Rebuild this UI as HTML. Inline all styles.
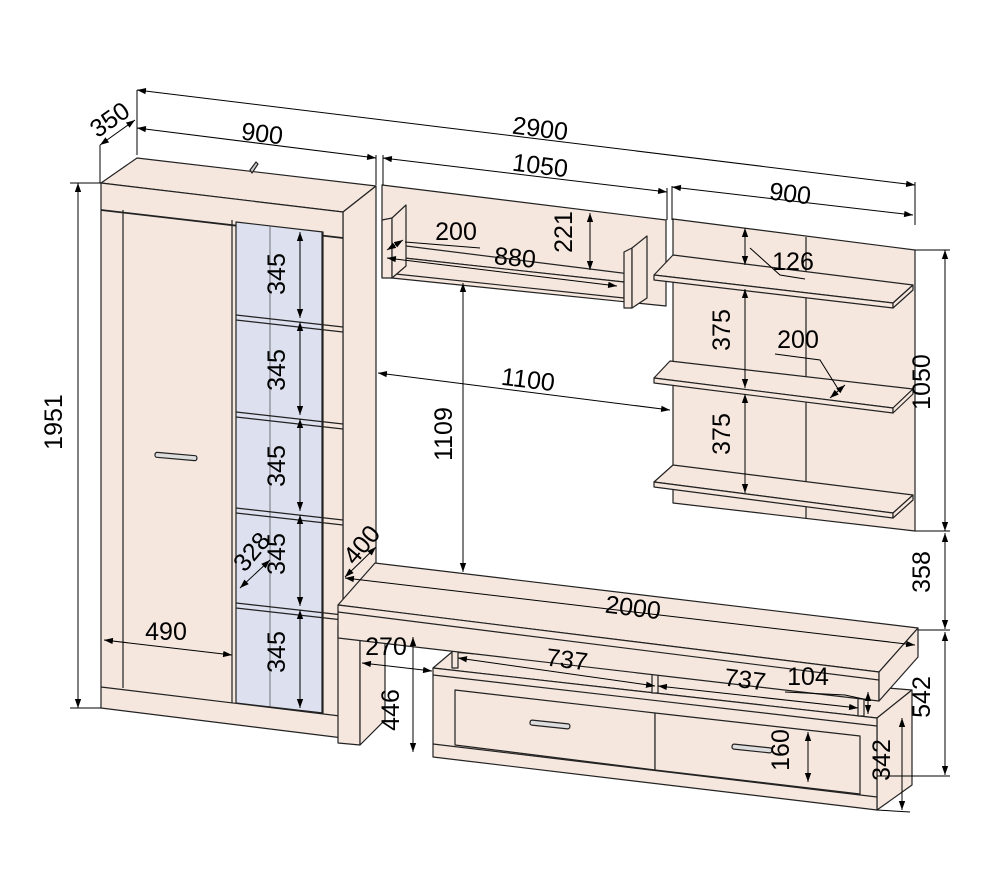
<!DOCTYPE html>
<html><head><meta charset="utf-8"><style>
html,body{margin:0;padding:0;background:#fff}
svg{display:block}
text{font-family:"Liberation Sans",Arial,sans-serif;font-size:25px;fill:#000}
</style></head><body>
<svg width="1000" height="870" viewBox="0 0 1000 870" xmlns="http://www.w3.org/2000/svg">
<defs>
<marker id="a" viewBox="0 0 10 10" refX="10" refY="5" markerWidth="9" markerHeight="9" orient="auto-start-reverse" markerUnits="userSpaceOnUse"><path d="M0,1.5 L10,5 L0,8.5 z" fill="#000"/></marker>
</defs>
<g stroke="#222" stroke-width="1.2" fill="#f6e7de" stroke-linejoin="round">
<polygon points="101,183 137,158 376,186 343,212"/>
<polygon points="343,212 376,186 376,710 343,738"/>
<polygon points="101,183 343,212 343,738 101,708"/>
<polyline fill="none" stroke-width="1.8" points="101,210 343,238"/>
<line x1="123" y1="210" x2="123" y2="688"/>
<polygon fill="#dde1ef" points="236,222 323,232 323,713 236,703"/>
<line x1="232" y1="220" x2="232" y2="703"/>
<line x1="270" y1="226" x2="270" y2="708" stroke="#555" stroke-width="0.8"/>
<line x1="322" y1="232" x2="322" y2="713"/>
<polyline fill="none" points="101,687 340,716"/>
<polyline fill="none" points="236,315 343,327"/>
<polyline fill="none" points="236,320 343,332"/>
<polyline fill="none" points="236,412 343,424"/>
<polyline fill="none" points="236,417 343,429"/>
<polyline fill="none" points="236,508 343,520"/>
<polyline fill="none" points="236,513 343,525"/>
<polyline fill="none" points="236,603 343,615"/>
<polyline fill="none" points="236,608 343,620"/>
<rect x="155" y="454" width="42" height="5" rx="2" fill="#ddd" transform="rotate(5 176 456)"/>
<path d="M250,170 l6,-8 l2,2 l-6,9 z" fill="#ccc"/>
<polygon points="382,185 666,220 666,306 382,277"/>
<polygon points="386,256 406,246 646,276 624,282"/>
<polygon points="386,256 624,282 624,298 386,273"/>
<polygon points="382,220 392,218 392,278 382,278"/>
<polygon points="392,218 406,205 406,266 392,278"/>
<polygon points="624,252 632,248 632,308 624,308"/>
<polygon points="632,248 647,236 647,298 632,308"/>
<polygon points="673,219 915,250 915,531 673,503"/>
<line x1="806" y1="237" x2="806" y2="518"/>
<polygon points="654,275 673,255 913,285 893,303"/>
<polygon points="654,275 893,303 893,308 654,280"/>
<polygon points="893,303 913,285 913,290 893,308"/>
<polygon points="654,378 670,361 913,389 893,408"/>
<polygon points="654,378 893,408 893,413 654,383"/>
<polygon points="893,408 913,389 913,394 893,413"/>
<polygon points="654,482 673,465 913,495 893,513"/>
<polygon points="654,482 893,513 893,518 654,487"/>
<polygon points="893,513 913,495 913,500 893,518"/>
<polygon points="433,668 452,652 912,690 877,718"/>
<polygon points="877,718 912,690 912,785 877,810"/>
<polygon points="433,668 877,718 877,810 433,757"/>
<polyline fill="none" points="433,675 877,726"/>
<polygon points="455,690 655,713 655,770 455,745"/>
<polygon points="655,713 860,736 860,794 655,770"/>
<polyline fill="none" points="433,744 877,797"/>
<rect x="530" y="722" width="40" height="5" rx="2" fill="#ddd" transform="rotate(6 550 724)"/>
<rect x="732" y="746" width="40" height="5" rx="2" fill="#ddd" transform="rotate(6 752 748)"/>
<rect x="452" y="640" width="6" height="28"/>
<rect x="652" y="665" width="6" height="28"/>
<rect x="858" y="690" width="6" height="26"/>
<polygon points="338,625 360,628 360,745 338,743"/>
<polygon points="360,628 385,615 385,720 360,745"/>
<polygon points="338,605 375,563 918,628 879,672"/>
<polygon points="338,605 879,672 879,701 338,638"/>
<polygon points="879,672 918,628 918,657 879,701"/>
<polyline fill="none" points="338,612 879,680"/>
</g>
<g stroke="#000" stroke-width="1" fill="none">
<line x1="137" y1="90" x2="137" y2="155"/><line x1="915" y1="182" x2="915" y2="225"/>
<line x1="137" y1="90" x2="915" y2="185" marker-start="url(#a)" marker-end="url(#a)"/>
<line x1="137" y1="128" x2="376" y2="158" marker-start="url(#a)" marker-end="url(#a)"/>
<line x1="376" y1="155" x2="376" y2="185"/>
<line x1="100" y1="145" x2="135" y2="120" marker-start="url(#a)" marker-end="url(#a)"/>
<line x1="100" y1="145" x2="100" y2="183"/>
<line x1="383" y1="158" x2="667" y2="192" marker-start="url(#a)" marker-end="url(#a)"/>
<line x1="383" y1="155" x2="383" y2="185"/><line x1="667" y1="188" x2="667" y2="220"/>
<line x1="672" y1="186" x2="672" y2="220"/>
<line x1="672" y1="187" x2="913" y2="215" marker-start="url(#a)" marker-end="url(#a)"/>
<line x1="70" y1="183" x2="101" y2="183"/><line x1="70" y1="708" x2="101" y2="708"/>
<line x1="78" y1="183" x2="78" y2="708" marker-start="url(#a)" marker-end="url(#a)"/>
<line x1="915" y1="250" x2="950" y2="250"/><line x1="915" y1="531" x2="950" y2="531"/>
<line x1="918" y1="630" x2="950" y2="630"/><line x1="877" y1="776" x2="950" y2="776"/>
<line x1="945" y1="250" x2="945" y2="531" marker-start="url(#a)" marker-end="url(#a)"/>
<line x1="945" y1="533" x2="945" y2="629" marker-start="url(#a)" marker-end="url(#a)"/>
<line x1="945" y1="632" x2="945" y2="775" marker-start="url(#a)" marker-end="url(#a)"/>
<line x1="902" y1="718" x2="902" y2="810" marker-start="url(#a)" marker-end="url(#a)"/>
<line x1="877" y1="810" x2="910" y2="812"/>
<line x1="378" y1="373" x2="670" y2="410" marker-start="url(#a)" marker-end="url(#a)"/>
<line x1="463" y1="283" x2="463" y2="572" marker-start="url(#a)" marker-end="url(#a)"/>
<line x1="345" y1="578" x2="915" y2="645" marker-start="url(#a)" marker-end="url(#a)"/>
<line x1="458" y1="658" x2="655" y2="686" marker-start="url(#a)" marker-end="url(#a)"/>
<line x1="658" y1="686" x2="858" y2="708" marker-start="url(#a)" marker-end="url(#a)"/>
<line x1="362" y1="663" x2="432" y2="671" marker-start="url(#a)" marker-end="url(#a)"/>
<line x1="413" y1="637" x2="413" y2="752" marker-start="url(#a)" marker-end="url(#a)"/>
<line x1="808" y1="732" x2="808" y2="782" marker-start="url(#a)" marker-end="url(#a)"/>
<line x1="868" y1="692" x2="868" y2="714" marker-start="url(#a)" marker-end="url(#a)"/>
<line x1="104" y1="640" x2="232" y2="655" marker-start="url(#a)" marker-end="url(#a)"/>
<line x1="240" y1="588" x2="270" y2="560" marker-start="url(#a)" marker-end="url(#a)"/>
<line x1="345" y1="577" x2="376" y2="547" marker-start="url(#a)" marker-end="url(#a)"/>
<line x1="300" y1="232" x2="300" y2="318" marker-start="url(#a)" marker-end="url(#a)"/>
<line x1="300" y1="322" x2="300" y2="415" marker-start="url(#a)" marker-end="url(#a)"/>
<line x1="300" y1="419" x2="300" y2="511" marker-start="url(#a)" marker-end="url(#a)"/>
<line x1="300" y1="515" x2="300" y2="606" marker-start="url(#a)" marker-end="url(#a)"/>
<line x1="300" y1="610" x2="300" y2="708" marker-start="url(#a)" marker-end="url(#a)"/>
<line x1="745" y1="228" x2="745" y2="265" marker-start="url(#a)" marker-end="url(#a)"/>
<line x1="745" y1="289" x2="745" y2="388" marker-start="url(#a)" marker-end="url(#a)"/>
<line x1="745" y1="394" x2="745" y2="493" marker-start="url(#a)" marker-end="url(#a)"/>
<line x1="590" y1="213" x2="590" y2="270" marker-start="url(#a)" marker-end="url(#a)"/>
<line x1="387" y1="250" x2="403" y2="240" marker-start="url(#a)" marker-end="url(#a)"/>
<line x1="387" y1="258" x2="617" y2="286" marker-start="url(#a)" marker-end="url(#a)"/>
<line x1="830" y1="398" x2="845" y2="385" marker-start="url(#a)" marker-end="url(#a)"/>
<polyline points="775,354 820,360 840,392"/>
<polyline points="750,248 780,275 805,279"/>
<polyline points="405,242 480,248"/>
<polyline points="785,692 845,695 868,700"/>
</g>
<g>
<text x="540" y="137" transform="rotate(7 540 130)" text-anchor="middle">2900</text>
<text x="262" y="142" transform="rotate(7 262 135)" text-anchor="middle">900</text>
<text x="110" y="128" transform="rotate(-35 110 120)" text-anchor="middle">350</text>
<text x="540" y="174" transform="rotate(7 540 167)" text-anchor="middle">1050</text>
<text x="790" y="202" transform="rotate(7 790 195)" text-anchor="middle">900</text>
<text x="70" y="430" transform="rotate(-90 62 430)" text-anchor="middle">1951</text>
<text x="938" y="390" transform="rotate(-90 930 390)" text-anchor="middle">1050</text>
<text x="938" y="580" transform="rotate(-90 930 580)" text-anchor="middle">358</text>
<text x="938" y="705" transform="rotate(-90 930 705)" text-anchor="middle">542</text>
<text x="898" y="768" transform="rotate(-90 890 768)" text-anchor="middle">342</text>
<text x="528" y="388" transform="rotate(7 528 380)" text-anchor="middle">1100</text>
<text x="460" y="442" transform="rotate(-90 452 442)" text-anchor="middle">1109</text>
<text x="633" y="616" transform="rotate(7 633 608)" text-anchor="middle">2000</text>
<text x="567" y="668" transform="rotate(7 567 660)" text-anchor="middle">737</text>
<text x="745" y="688" transform="rotate(7 745 680)" text-anchor="middle">737</text>
<text x="808" y="685" text-anchor="middle">104</text>
<text x="386" y="655" text-anchor="middle">270</text>
<text x="407" y="718" transform="rotate(-90 399 718)" text-anchor="middle">446</text>
<text x="797" y="758" transform="rotate(-90 789 758)" text-anchor="middle">160</text>
<text x="166" y="640" text-anchor="middle">490</text>
<text x="252" y="560" transform="rotate(-50 252 552)" text-anchor="middle">328</text>
<text x="362" y="553" transform="rotate(-50 362 545)" text-anchor="middle">400</text>
<text x="293" y="282" transform="rotate(-90 285 282)" text-anchor="middle">345</text>
<text x="293" y="378" transform="rotate(-90 285 378)" text-anchor="middle">345</text>
<text x="293" y="474" transform="rotate(-90 285 474)" text-anchor="middle">345</text>
<text x="293" y="562" transform="rotate(-90 285 562)" text-anchor="middle">345</text>
<text x="293" y="660" transform="rotate(-90 285 660)" text-anchor="middle">345</text>
<text x="793" y="270" text-anchor="middle">126</text>
<text x="738" y="338" transform="rotate(-90 730 338)" text-anchor="middle">375</text>
<text x="738" y="442" transform="rotate(-90 730 442)" text-anchor="middle">375</text>
<text x="798" y="348" text-anchor="middle">200</text>
<text x="456" y="240" text-anchor="middle">200</text>
<text x="515" y="266" transform="rotate(5 515 258)" text-anchor="middle">880</text>
<text x="580" y="240" transform="rotate(-90 572 240)" text-anchor="middle">221</text>
</g>
</svg>
</body></html>
